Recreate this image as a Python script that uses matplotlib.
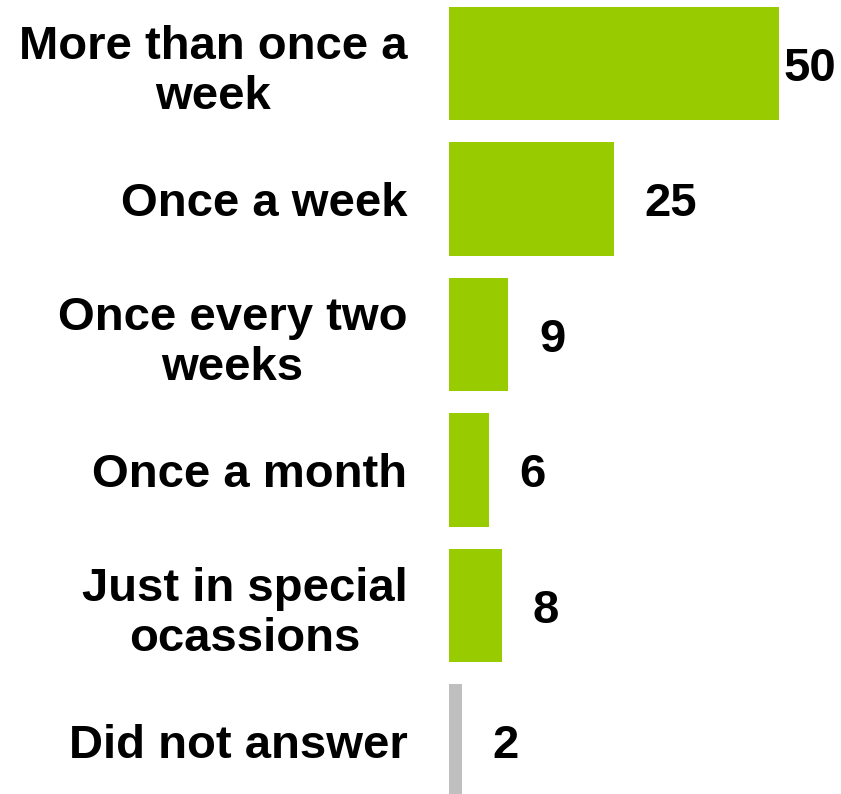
import matplotlib
matplotlib.use("Agg")
import matplotlib.pyplot as plt

categories = ["More than once a\nweek", "Once a week", "Once every two\nweeks",
              "Once a month", "Just in special\nocassions", "Did not answer"]
values = [50, 25, 9, 6, 8, 2]
colors = ["#99CC00"] * 5 + ["#BFBFBF"]

plt.rcParams['font.family'] = ['Liberation Sans', 'DejaVu Sans']

fig = plt.figure(figsize=(8.41, 7.94), dpi=100)
ax = fig.add_axes([449 / 841, 0, 392 / 841, 1])

pos = list(range(len(values)))
ax.barh(pos, values, height=0.835, color=colors)
ax.set_ylim(5.391, -0.469)
ax.set_xlim(0, 59.4)

ax.set_yticks(pos)
ax.set_yticklabels(categories, fontsize=34, fontweight='bold', multialignment='center')
ax.tick_params(axis='y', length=0, pad=30)
ax.set_xticks([])
for s in ax.spines.values():
    s.set_visible(False)

for i, v in enumerate(values):
    off = 3 if v == max(values) else 22
    ax.annotate(str(v), (v, i), xytext=(off, 0), textcoords='offset points',
                ha='left', va='center_baseline', fontsize=34, fontweight='bold')

fig.savefig("out.png", dpi=100)
